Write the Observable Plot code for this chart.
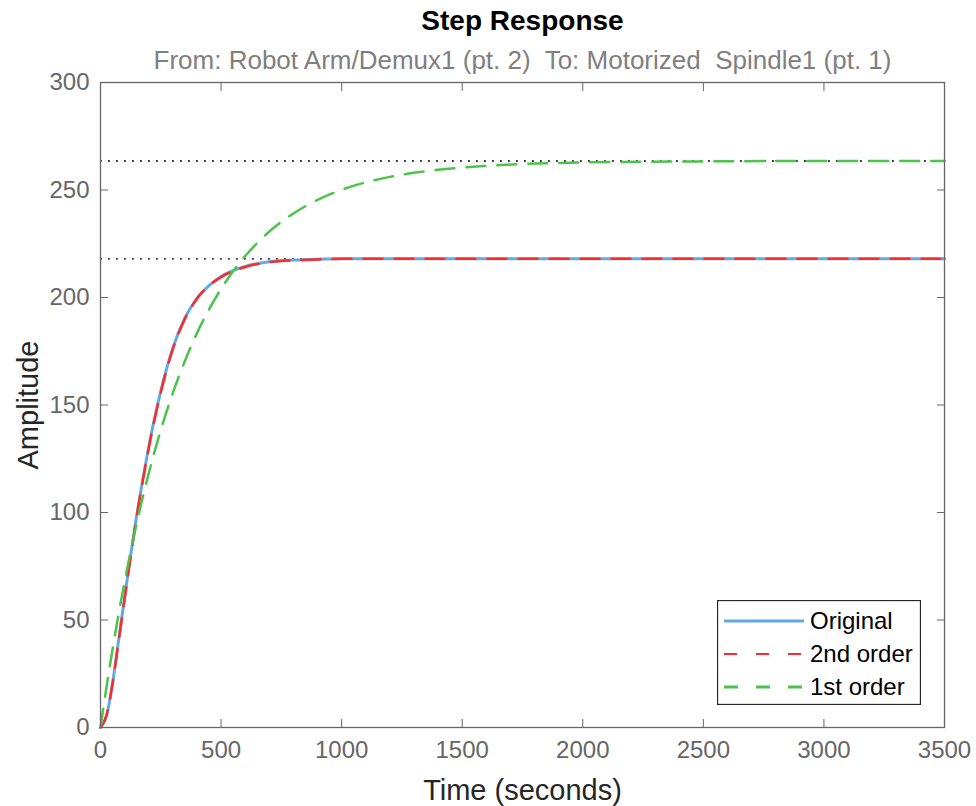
<!DOCTYPE html>
<html><head><meta charset="utf-8">
<script src="https://cdn.jsdelivr.net/npm/d3@7"></script>
<script src="https://cdn.jsdelivr.net/npm/@observablehq/plot@0.6"></script>
<style>
body{margin:0;background:#fff;}
#wrap{position:relative;width:976px;height:806px;font-family:"Liberation Sans",Arial,sans-serif;}
#legend{position:absolute;left:717px;top:600px;}
</style></head><body><div id="wrap"></div>
<script>
// Time samples (seconds) for the original and 2nd-order responses
const timeA = [0,25,50,75,100,125,150,175,200,250,300,350,400,450,500,600,700,800,900,1000,1500,2000,2500,3000,3500];
const original = [0,5.4,20.5,40.5,60.5,80,98.5,115,130.5,156.5,176.5,190.5,199.5,205.5,209.8,214.5,216.6,217.4,217.8,218,218,218,218,218,218];
const secondOrder = [0,5.8,20.5,40,59.8,79.5,98,114.5,130,155.8,176,190,199.5,205.5,209.5,214.2,216.4,217.3,217.7,218,218,218,218,218,218];
// Time samples for the 1st-order response
const timeB = [0,25,50,75,100,150,200,250,300,350,400,500,600,700,800,900,1000,1200,1400,1600,1800,2000,2500,3000,3500];
const firstOrder = [0,18.9,36.4,52.7,67.8,94.9,118.2,138.3,155.6,170.5,183.4,204.0,219.3,230.7,239.1,245.4,250.1,256.1,259.4,261.2,262.3,262.8,263.3,263.5,263.5];
const steadyStates = [218, 263.5];
const xTicks = [0,500,1000,1500,2000,2500,3000,3500];
const yTicks = [0,50,100,150,200,250,300];
const seriesNames = ["Original","2nd order","1st order"];
const seriesColors = ["#62aae2","#ff2b2b","#4cc44c"];
const titleText = "Step Response";
const subtitleText = "From: Robot Arm/Demux1 (pt. 2)  To: Motorized  Spindle1 (pt. 1)";
const xLabel = "Time (seconds)";
const yLabel = "Amplitude";

const dataOrig = timeA.map((t,i)=>({t, v: original[i]}));
const data2 = timeA.map((t,i)=>({t, v: secondOrder[i]}));
const data1 = timeB.map((t,i)=>({t, v: firstOrder[i]}));

const axisColor = "#666";
const chart = Plot.plot({
  width: 976, height: 806,
  marginTop: 82, marginBottom: 79, marginLeft: 100, marginRight: 32,
  style: {fontFamily: '"Liberation Sans", Arial, sans-serif', background: "white", overflow: "visible"},
  x: {domain: [0, 3500]},
  y: {domain: [0, 300]},
  marks: [
    Plot.ruleY(steadyStates, {stroke: "#333", strokeWidth: 1.8, strokeDasharray: "1.8,6.2"}),
    Plot.line(dataOrig, {x: "t", y: "v", stroke: seriesColors[0], strokeWidth: 3, curve: "monotone-x"}),
    Plot.line(data2, {x: "t", y: "v", stroke: seriesColors[1], strokeWidth: 2.5, strokeDasharray: "19,12", curve: "monotone-x"}),
    Plot.line(data1, {x: "t", y: "v", stroke: seriesColors[2], strokeWidth: 2.5, strokeDasharray: "19,12", curve: "monotone-x"}),
    Plot.axisX({ticks: xTicks, tickSize: -8, tickPadding: 21, fontSize: 24, color: axisColor, label: null, tickFormat: d => String(d)}),
    Plot.axisX({anchor: "top", ticks: xTicks, tickSize: -8, tickFormat: () => "", label: null, color: axisColor}),
    Plot.axisY({ticks: yTicks, tickSize: -8, tickPadding: 19, fontSize: 24, color: axisColor, label: null, tickFormat: d => String(d)}),
    Plot.axisY({anchor: "right", ticks: yTicks, tickSize: -8, tickFormat: () => "", label: null, color: axisColor}),
    Plot.frame({stroke: axisColor, strokeWidth: 1.3}),
    Plot.text([titleText], {text: d => d, frameAnchor: "top", lineAnchor: "middle", dy: -61, fontSize: 28, fontWeight: "bold", fill: "#000"}),
    Plot.text([subtitleText], {text: d => d, frameAnchor: "top", lineAnchor: "middle", dy: -22, fontSize: 26, fill: "#7f7f7f"}),
    Plot.text([xLabel], {text: d => d, frameAnchor: "bottom", lineAnchor: "middle", dy: 63, fontSize: 29, fill: "#262626"}),
    Plot.text([yLabel], {text: d => d, frameAnchor: "left", textAnchor: "middle", lineAnchor: "middle", dx: -72, rotate: -90, fontSize: 29, fill: "#262626"})
  ]
});
document.getElementById("wrap").appendChild(chart);

// Legend
const lw = 204, lh = 105;
const leg = d3.select("#wrap").append("svg").attr("id","legend").attr("width", lw).attr("height", lh);
leg.append("rect").attr("x",0.5).attr("y",0.5).attr("width",lw-1).attr("height",lh-1).attr("fill","#fff").attr("stroke","#262626").attr("stroke-width",1.3);
const dashes = [null, "13,19", "14,18"];
const widths = [3, 2.2, 2.8];
seriesNames.forEach((name, i) => {
  const y = 21 + i * 33;
  leg.append("line").attr("x1", 7).attr("x2", 87).attr("y1", y).attr("y2", y)
    .attr("stroke", seriesColors[i]).attr("stroke-width", widths[i]).attr("stroke-dasharray", dashes[i]);
  leg.append("text").attr("x", 93).attr("y", y).attr("dy", "0.35em")
    .attr("font-size", 24).attr("fill", "#000").attr("font-family", '"Liberation Sans", Arial, sans-serif').text(name);
});
</script></body></html>
